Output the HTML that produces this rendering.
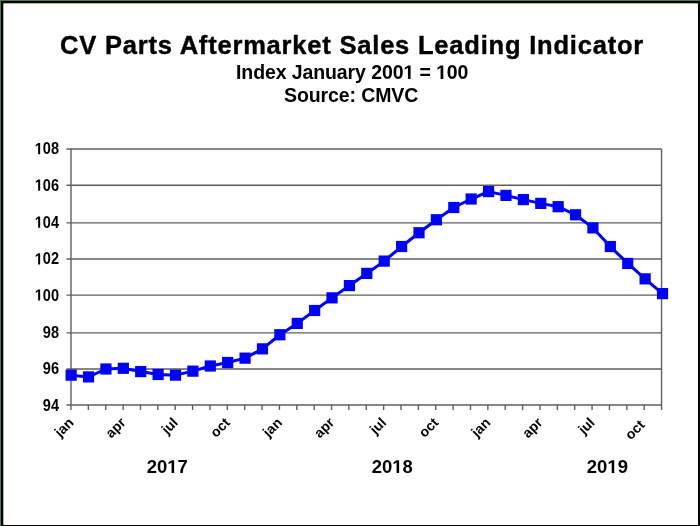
<!DOCTYPE html>
<html><head><meta charset="utf-8"><style>
html,body{margin:0;padding:0;background:#fff;}
body{width:700px;height:526px;overflow:hidden;position:relative;}
svg{position:absolute;left:0;top:0;filter:blur(0.5px);}
text{font-family:"Liberation Sans",sans-serif;fill:#000;}
.t{stroke:#000;stroke-width:0.4px;font-weight:bold;font-size:25.5px;letter-spacing:0.8px;}
.s{font-weight:bold;font-size:19.5px;letter-spacing:-0.1px;}
.yl{font-weight:bold;font-size:15px;text-anchor:end;}
.ml{font-size:14px;font-weight:bold;text-anchor:end;}
.yr{font-weight:bold;font-size:18.5px;}
</style></head><body>
<svg width="700" height="526" viewBox="0 0 700 526">
<rect x="0" y="0" width="700" height="526" fill="#000"/>
<rect x="0" y="0" width="700" height="1" fill="#497851"/>
<rect x="0" y="0" width="1" height="526" fill="#497851"/>
<rect x="3.3" y="3.3" width="694.7" height="521.7" fill="#fff"/>
<g transform="translate(60.00,54.00)"><text id="tx21" class="t" x="0" y="0">CV Parts Aftermarket Sales Leading Indicator</text></g>
<g transform="translate(236.00,79.00)"><text id="tx22" class="s" x="0" y="0">Index January 200  =  00</text><path transform="translate(167.391,0.000) scale(0.009521,-0.009521)" d="M478 0V1170L140 959V1180L493 1409H759V0Z"/><path transform="translate(200.047,0.000) scale(0.009521,-0.009521)" d="M478 0V1170L140 959V1180L493 1409H759V0Z"/></g>
<g transform="translate(284.00,101.80)"><text id="tx23" class="s" x="0" y="0">Source: CMVC</text></g>
<g stroke="#5e5e5e" stroke-width="1.4">
<line x1="66.5" y1="404.99" x2="661.55" y2="404.99"/>
<line x1="66.5" y1="368.93" x2="661.55" y2="368.93"/>
<line x1="66.5" y1="332.84" x2="661.55" y2="332.84"/>
<line x1="66.5" y1="295.13" x2="661.55" y2="295.13"/>
<line x1="66.5" y1="258.99" x2="661.55" y2="258.99"/>
<line x1="66.5" y1="222.86" x2="661.55" y2="222.86"/>
<line x1="66.5" y1="185.27" x2="661.55" y2="185.27"/>
<line x1="66.5" y1="149.07" x2="661.55" y2="149.07"/>
<line x1="71.00" y1="149.07" x2="71.00" y2="404.99"/>
<line x1="661.55" y1="149.07" x2="661.55" y2="404.99"/>
<line x1="71.00" y1="405.00" x2="71.00" y2="410"/>
<line x1="88.37" y1="405.00" x2="88.37" y2="410"/>
<line x1="105.74" y1="405.00" x2="105.74" y2="410"/>
<line x1="123.11" y1="405.00" x2="123.11" y2="410"/>
<line x1="140.48" y1="405.00" x2="140.48" y2="410"/>
<line x1="157.85" y1="405.00" x2="157.85" y2="410"/>
<line x1="175.21" y1="405.00" x2="175.21" y2="410"/>
<line x1="192.58" y1="405.00" x2="192.58" y2="410"/>
<line x1="209.95" y1="405.00" x2="209.95" y2="410"/>
<line x1="227.32" y1="405.00" x2="227.32" y2="410"/>
<line x1="244.69" y1="405.00" x2="244.69" y2="410"/>
<line x1="262.06" y1="405.00" x2="262.06" y2="410"/>
<line x1="279.43" y1="405.00" x2="279.43" y2="410"/>
<line x1="296.80" y1="405.00" x2="296.80" y2="410"/>
<line x1="314.17" y1="405.00" x2="314.17" y2="410"/>
<line x1="331.54" y1="405.00" x2="331.54" y2="410"/>
<line x1="348.91" y1="405.00" x2="348.91" y2="410"/>
<line x1="366.27" y1="405.00" x2="366.27" y2="410"/>
<line x1="383.64" y1="405.00" x2="383.64" y2="410"/>
<line x1="401.01" y1="405.00" x2="401.01" y2="410"/>
<line x1="418.38" y1="405.00" x2="418.38" y2="410"/>
<line x1="435.75" y1="405.00" x2="435.75" y2="410"/>
<line x1="453.12" y1="405.00" x2="453.12" y2="410"/>
<line x1="470.49" y1="405.00" x2="470.49" y2="410"/>
<line x1="487.86" y1="405.00" x2="487.86" y2="410"/>
<line x1="505.23" y1="405.00" x2="505.23" y2="410"/>
<line x1="522.60" y1="405.00" x2="522.60" y2="410"/>
<line x1="539.97" y1="405.00" x2="539.97" y2="410"/>
<line x1="557.34" y1="405.00" x2="557.34" y2="410"/>
<line x1="574.70" y1="405.00" x2="574.70" y2="410"/>
<line x1="592.07" y1="405.00" x2="592.07" y2="410"/>
<line x1="609.44" y1="405.00" x2="609.44" y2="410"/>
<line x1="626.81" y1="405.00" x2="626.81" y2="410"/>
<line x1="644.18" y1="405.00" x2="644.18" y2="410"/>
<line x1="661.55" y1="405.00" x2="661.55" y2="410"/>
</g>
<g transform="translate(59.00,410.57) scale(0.97,1.08)"><text id="tx1" class="yl" x="0" y="0">94</text></g>
<g transform="translate(59.00,373.67) scale(0.97,1.08)"><text id="tx2" class="yl" x="0" y="0">96</text></g>
<g transform="translate(59.00,337.77) scale(0.97,1.08)"><text id="tx3" class="yl" x="0" y="0">98</text></g>
<g transform="translate(59.00,300.62) scale(0.97,1.08)"><text id="tx4" class="yl" x="0" y="0"> 00</text><path transform="translate(-24.995,0.000) scale(0.007324,-0.007324)" d="M478 0V1170L140 959V1180L493 1409H759V0Z"/></g>
<g transform="translate(59.00,264.47) scale(0.97,1.08)"><text id="tx5" class="yl" x="0" y="0"> 02</text><path transform="translate(-24.995,0.000) scale(0.007324,-0.007324)" d="M478 0V1170L140 959V1180L493 1409H759V0Z"/></g>
<g transform="translate(59.00,227.77) scale(0.97,1.08)"><text id="tx6" class="yl" x="0" y="0"> 04</text><path transform="translate(-24.995,0.000) scale(0.007324,-0.007324)" d="M478 0V1170L140 959V1180L493 1409H759V0Z"/></g>
<g transform="translate(59.00,190.67) scale(0.97,1.08)"><text id="tx7" class="yl" x="0" y="0"> 06</text><path transform="translate(-24.995,0.000) scale(0.007324,-0.007324)" d="M478 0V1170L140 959V1180L493 1409H759V0Z"/></g>
<g transform="translate(59.00,154.27) scale(0.97,1.08)"><text id="tx8" class="yl" x="0" y="0"> 08</text><path transform="translate(-24.995,0.000) scale(0.007324,-0.007324)" d="M478 0V1170L140 959V1180L493 1409H759V0Z"/></g>
<g transform="translate(74.50,423.40) rotate(-45)"><text id="tx9" class="ml" x="0" y="0">jan</text></g>
<g transform="translate(126.61,423.40) rotate(-45)"><text id="tx10" class="ml" x="0" y="0">apr</text></g>
<g transform="translate(178.71,423.40) rotate(-45)"><text id="tx11" class="ml" x="0" y="0">jul</text></g>
<g transform="translate(230.82,423.40) rotate(-45)"><text id="tx12" class="ml" x="0" y="0">oct</text></g>
<g transform="translate(282.93,423.40) rotate(-45)"><text id="tx13" class="ml" x="0" y="0">jan</text></g>
<g transform="translate(335.04,423.40) rotate(-45)"><text id="tx14" class="ml" x="0" y="0">apr</text></g>
<g transform="translate(387.14,423.40) rotate(-45)"><text id="tx15" class="ml" x="0" y="0">jul</text></g>
<g transform="translate(439.25,423.40) rotate(-45)"><text id="tx16" class="ml" x="0" y="0">oct</text></g>
<g transform="translate(491.36,423.40) rotate(-45)"><text id="tx17" class="ml" x="0" y="0">jan</text></g>
<g transform="translate(543.47,423.40) rotate(-45)"><text id="tx18" class="ml" x="0" y="0">apr</text></g>
<g transform="translate(595.57,423.40) rotate(-45)"><text id="tx19" class="ml" x="0" y="0">jul</text></g>
<g transform="translate(645.58,425.70) rotate(-45)"><text id="tx20" class="ml" x="0" y="0">oct</text></g>
<polyline points="71.15,375.15 88.54,376.90 105.94,369.00 123.33,368.30 140.72,371.60 158.12,374.50 175.51,375.15 192.90,371.15 210.29,366.00 227.69,362.50 245.08,358.15 262.47,348.85 279.87,334.75 297.26,323.40 314.65,310.50 332.04,297.85 349.44,285.60 366.83,273.40 384.22,261.10 401.62,246.50 419.01,232.75 436.40,219.75 453.80,207.50 471.19,199.00 488.58,191.60 505.98,195.40 523.37,199.60 540.76,203.40 558.15,206.70 575.55,214.80 592.94,227.90 610.33,246.55 627.73,263.45 645.12,278.85 662.51,293.60" fill="none" stroke="#0000ff" stroke-width="3" stroke-linejoin="round"/>
<g fill="#0000ff">
<rect x="65.55" y="369.55" width="11.2" height="11.2"/>
<rect x="82.94" y="371.30" width="11.2" height="11.2"/>
<rect x="100.34" y="363.40" width="11.2" height="11.2"/>
<rect x="117.73" y="362.70" width="11.2" height="11.2"/>
<rect x="135.12" y="366.00" width="11.2" height="11.2"/>
<rect x="152.52" y="368.90" width="11.2" height="11.2"/>
<rect x="169.91" y="369.55" width="11.2" height="11.2"/>
<rect x="187.30" y="365.55" width="11.2" height="11.2"/>
<rect x="204.69" y="360.40" width="11.2" height="11.2"/>
<rect x="222.09" y="356.90" width="11.2" height="11.2"/>
<rect x="239.48" y="352.55" width="11.2" height="11.2"/>
<rect x="256.87" y="343.25" width="11.2" height="11.2"/>
<rect x="274.27" y="329.15" width="11.2" height="11.2"/>
<rect x="291.66" y="317.80" width="11.2" height="11.2"/>
<rect x="309.05" y="304.90" width="11.2" height="11.2"/>
<rect x="326.44" y="292.25" width="11.2" height="11.2"/>
<rect x="343.84" y="280.00" width="11.2" height="11.2"/>
<rect x="361.23" y="267.80" width="11.2" height="11.2"/>
<rect x="378.62" y="255.50" width="11.2" height="11.2"/>
<rect x="396.02" y="240.90" width="11.2" height="11.2"/>
<rect x="413.41" y="227.15" width="11.2" height="11.2"/>
<rect x="430.80" y="214.15" width="11.2" height="11.2"/>
<rect x="448.20" y="201.90" width="11.2" height="11.2"/>
<rect x="465.59" y="193.40" width="11.2" height="11.2"/>
<rect x="482.98" y="186.00" width="11.2" height="11.2"/>
<rect x="500.38" y="189.80" width="11.2" height="11.2"/>
<rect x="517.77" y="194.00" width="11.2" height="11.2"/>
<rect x="535.16" y="197.80" width="11.2" height="11.2"/>
<rect x="552.55" y="201.10" width="11.2" height="11.2"/>
<rect x="569.95" y="209.20" width="11.2" height="11.2"/>
<rect x="587.34" y="222.30" width="11.2" height="11.2"/>
<rect x="604.73" y="240.95" width="11.2" height="11.2"/>
<rect x="622.13" y="257.85" width="11.2" height="11.2"/>
<rect x="639.52" y="273.25" width="11.2" height="11.2"/>
<rect x="656.91" y="288.00" width="11.2" height="11.2"/>
</g>
<g transform="translate(146.70,473.00)"><text id="tx24" class="yr" x="0" y="0">20 7</text><path transform="translate(20.562,0.000) scale(0.009033,-0.009033)" d="M478 0V1170L140 959V1180L493 1409H759V0Z"/></g>
<g transform="translate(371.70,473.00)"><text id="tx25" class="yr" x="0" y="0">20 8</text><path transform="translate(20.562,0.000) scale(0.009033,-0.009033)" d="M478 0V1170L140 959V1180L493 1409H759V0Z"/></g>
<g transform="translate(586.80,473.00)"><text id="tx26" class="yr" x="0" y="0">20 9</text><path transform="translate(20.562,0.000) scale(0.009033,-0.009033)" d="M478 0V1170L140 959V1180L493 1409H759V0Z"/></g>
</svg>
</body></html>
